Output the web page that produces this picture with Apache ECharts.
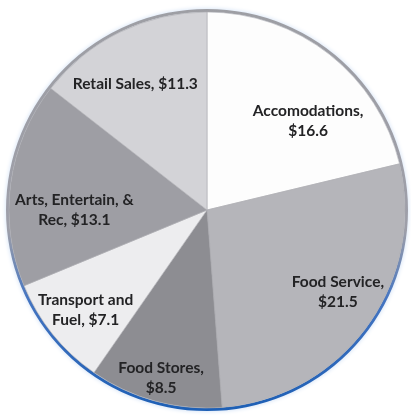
<!DOCTYPE html>
<html>
<head>
<meta charset="utf-8">
<script src="https://cdn.jsdelivr.net/npm/echarts@6/dist/echarts.min.js"></script>
<style>
  html, body { margin: 0; padding: 0; background: #ffffff; }
  #chart { width: 411px; height: 417px; }
</style>
</head>
<body>
<div id="chart"></div>
<script>
// Spending by category (millions of dollars)
const categories = ['Accomodations', 'Food Service', 'Food Stores', 'Transport and\nFuel', 'Arts, Entertain, &\nRec', 'Retail Sales'];
const values = [16.6, 21.5, 8.5, 7.1, 13.1, 11.3];
// text placed between the category name and its dollar amount
const separators = [',\n', ',\n', ',\n', ', ', ', ', ', '];
const sliceColors = ['#fdfdfd', '#b5b5ba', '#8d8d92', '#ededef', '#9e9ea4', '#d3d3d7'];

// small nudges for label placement inside each slice
const labelNudge = [[7, 30], [8, -7], [-6, 21], [-3, 5], [18, 20], [-5, 11]];

const CENTER = [207, 210];
const R = 199;

const chart = echarts.init(document.getElementById('chart'), null, { renderer: 'canvas' });

const sliceData = categories.map((c, i) => ({
  name: c,
  value: values[i],
  itemStyle: { color: sliceColors[i] }
}));

const labelData = categories.map((c, i) => ({ name: c, value: values[i] }));

chart.setOption({
  backgroundColor: '#ffffff',
  animation: false,
  series: [
    {
      // outer rim: thin grey at the top, deepening to blue at the bottom
      type: 'pie',
      silent: true,
      center: CENTER,
      radius: [R - 1, R + 2],
      startAngle: 90,
      label: { show: false },
      labelLine: { show: false },
      data: [{
        value: 1,
        itemStyle: {
          color: new echarts.graphic.LinearGradient(0, 0, 0, 1, [
            { offset: 0, color: 'rgba(150,150,155,0.9)' },
            { offset: 0.55, color: 'rgba(150,150,160,0.9)' },
            { offset: 0.72, color: 'rgba(60,110,190,0.95)' },
            { offset: 1, color: '#1d5fb5' }
          ]),
          shadowBlur: 4,
          shadowColor: 'rgba(80,140,220,0.35)'
        }
      }]
    },
    {
      type: 'pie',
      center: CENTER,
      radius: [0, R - 1],
      startAngle: 90,
      clockwise: true,
      label: { show: false },
      labelLine: { show: false },
      itemStyle: { borderColor: '#adadb2', borderWidth: 0.6 },
      data: sliceData
    },
    {
      // transparent ring carrying the category labels
      type: 'pie',
      silent: true,
      center: CENTER,
      radius: [92, 206],
      startAngle: 90,
      clockwise: true,
      itemStyle: { color: 'rgba(0,0,0,0)' },
      labelLine: { show: false },
      label: {
        show: true,
        position: 'inside',
        fontFamily: 'Lato, "Open Sans", sans-serif',
        fontWeight: 'bold',
        fontSize: 15.5,
        lineHeight: 20,
        color: '#232325',
        align: 'center',
        formatter: p => p.name + separators[p.dataIndex] + '$' + p.value
      },
      labelLayout: p => ({ dx: labelNudge[p.dataIndex][0], dy: labelNudge[p.dataIndex][1] }),
      data: labelData
    }
  ]
});
</script>
</body>
</html>
